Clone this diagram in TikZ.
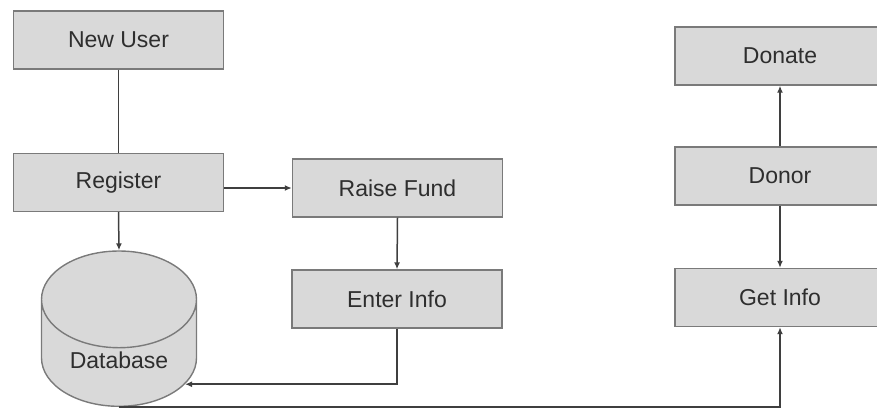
\documentclass[tikz,border=0pt]{standalone}
\usepackage{fontspec}
\setmainfont{Liberation Sans}
\usetikzlibrary{arrows.meta,shapes.geometric}
\tikzset{>=Latex}
\definecolor{boxfill}{HTML}{D9D9D9}
\definecolor{boxline}{HTML}{7A7A7A}
\definecolor{flowline}{HTML}{3F3F3F}
\definecolor{boxtext}{HTML}{2E2E2E}

\begin{document}
\begin{tikzpicture}[x=1pt, y=-1pt,
  procbox/.style={rectangle, draw=boxline, fill=boxfill, line width=1.4pt,
    minimum width=210pt, minimum height=58pt, align=center,
    font=\fontsize{23}{26}\selectfont, text=boxtext, inner sep=3pt},
  dbstyle/.style={cylinder, shape border rotate=90, aspect=0.92, draw=boxline,
    fill=boxfill, line width=1.4pt, minimum width=155pt, minimum height=127pt,
    font=\fontsize{23}{26}\selectfont, text=boxtext},
  flowarrow/.style={-{Latex[length=7pt,width=6pt]}, line width=1.5pt, color=flowline},
  flowline/.style={line width=1.5pt, color=flowline}
]
\useasboundingbox (0,0) rectangle (877,410);

% ---------- Left column ----------
\node[procbox] (newuser) at (118.5,40) {New User};
\node[procbox] (register) at (118.5,182.5) {Register};
\node[dbstyle, anchor=south] (db) at (119,407) {Database};

% ---------- Middle column ----------
\node[procbox] (raise) at (397.5,188) {Raise Fund};
\node[procbox] (enter) at (397,299) {Enter Info};

% ---------- Right column ----------
\node[procbox] (donate) at (780,56) {Donate};
\node[procbox] (donor) at (780,176) {Donor};
\node[procbox] (getinfo) at (780,297.5) {Get Info};

% ---------- Flow ----------
\draw[flowline] (newuser.south) -- (register.north);
\draw[flowarrow] (register.east |- raise.west) -- (raise.west);
\draw[flowarrow] (register.south) -- (db.north);
\draw[flowarrow] (raise.south) -- (enter.north);
\draw[flowarrow] (enter.south) |- (db.-20);
\draw[flowarrow] (db.south) -| (getinfo.south);
\draw[flowarrow] (donor.north) -- (donate.south);
\draw[flowarrow] (donor.south) -- (getinfo.north);

\end{tikzpicture}
\end{document}
